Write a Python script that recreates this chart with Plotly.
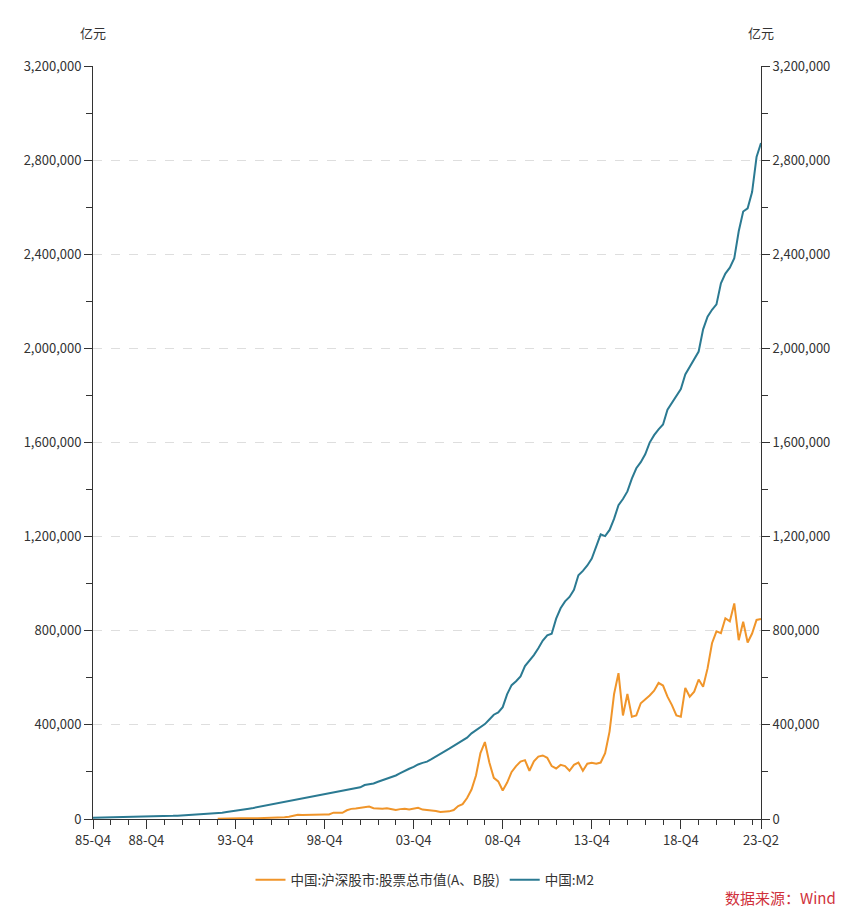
import plotly.graph_objects as go

# ---- data ----
quarters = ["85-Q4"] + [f"{y % 100:02d}-Q{q}" for y in range(1986, 2023) for q in (1, 2, 3, 4)] + ["23-Q1", "23-Q2"]

m2 = [
    5199,
    5500, 5900, 6300, 6721,
    7050, 7450, 7900, 8330,
    8700, 9200, 9700, 10100,
    10400, 10900, 11400, 11950,
    12600, 13400, 14300, 15293,
    16100, 17100, 18200, 19350,
    20500, 22000, 23600, 25402,
    27000, 29500, 31800, 34880,
    37500, 41000, 43900, 46924,
    50500, 54200, 57400, 60751,
    64700, 68500, 72700, 76095,
    80300, 84000, 87500, 90995,
    95000, 97700, 100800, 104499,
    108400, 113200, 115500, 119898,
    122600, 126600, 130300, 134610,
    144400, 147800, 151000, 158302,
    164600, 170900, 176700, 185007,
    194500, 204900, 213600, 221223,
    231700, 238400, 243800, 254107,
    264600, 275800, 287400, 298756,
    310500, 322800, 331900, 345578,
    364100, 377800, 393100, 403442,
    423100, 443100, 452900, 475167,
    530600, 568900, 585400, 606225,
    649900, 673900, 696500, 725852,
    758100, 780800, 787400, 851591,
    895600, 924900, 943700, 974149,
    1035900, 1054400, 1077400, 1106525,
    1160700, 1209600, 1202100, 1228375,
    1275300, 1333400, 1359800, 1392278,
    1446200, 1490500, 1516400, 1550067,
    1599600, 1631300, 1655700, 1676769,
    1739300, 1770200, 1801700, 1826744,
    1889400, 1921400, 1952300, 1986489,
    2080900, 2134900, 2164100, 2186796,
    2276900, 2317800, 2342800, 2382899,
    2497700, 2581500, 2595100, 2664321,
    2813000, 2873023,
]

stock = [None] * 28 + [
    1048,
    2000, 3000, 3300, 3531,
    3200, 2900, 4500, 3691,
    3300, 3700, 3600, 3474,
    4000, 6500, 7500, 9842,
    13500, 17500, 16500, 17529,
    19500, 20500, 18500, 19506,
    19500, 27000, 26500, 26471,
    37000, 43000, 45000, 48091,
    50000, 53000, 46000, 43522,
    44000, 46000, 41000, 38329,
    42000, 44000, 40000, 42458,
    48000, 40000, 39000, 37056,
    34000, 30000, 31000, 32430,
    38000, 55000, 63000, 89404,
    125000, 185000, 280000, 327141,
    240000, 175000, 160000, 121366,
    155000, 200000, 225000, 243939,
    250000, 205000, 245000, 265423,
    270000, 260000, 225000, 214758,
    230000, 225000, 205000, 230358,
    240000, 205000, 235000, 239077,
    235000, 240000, 280000, 372547,
    530000, 620000, 440000, 531304,
    435000, 440000, 492000, 507686,
    525000, 545000, 578000, 567086,
    520000, 484000, 440000, 434924,
    557000, 520000, 541000, 592935,
    562000, 640000, 747000, 797238,
    790000, 853000, 840000, 916088,
    760000, 838000, 750000, 788006,
    846000, 850000,
]

tick_labels = ["85-Q4", "88-Q4", "93-Q4", "98-Q4", "03-Q4", "08-Q4", "13-Q4", "18-Q4", "23-Q2"]
series_names = ["中国:沪深股市:股票总市值(A、B股)", "中国:M2"]

# ---- figure ----
idx = list(range(len(quarters)))
tick_pos = [quarters.index(t) for t in tick_labels]
minor_pos = [i for i, q in enumerate(quarters) if q.endswith("Q4") and i not in tick_pos]

FONT = "Noto Sans CJK SC, Microsoft YaHei, sans-serif"
ORANGE = "#f0952a"
BLUE = "#2b7a92"

fig = go.Figure()
fig.add_trace(go.Scatter(x=idx, y=stock, name=series_names[0], mode="lines",
                         line=dict(color=ORANGE, width=2), yaxis="y"))
fig.add_trace(go.Scatter(x=idx, y=m2, name=series_names[1], mode="lines",
                         line=dict(color=BLUE, width=2), yaxis="y2"))

yax = dict(range=[0, 3200000], dtick=400000, tickformat=",d", showline=True,
           linecolor="#333", linewidth=1, ticks="outside", ticklen=8, tickcolor="#333",
           tickfont=dict(size=13, color="#333"), zeroline=False,
           minor=dict(dtick=200000, ticks="outside", ticklen=6, tickcolor="#333", showgrid=False))

fig.update_layout(
    width=855, height=907,
    margin=dict(l=85, r=102, t=58, b=96),
    paper_bgcolor="white", plot_bgcolor="white",
    font=dict(family=FONT, size=13, color="#333"),
    xaxis=dict(range=[0, len(quarters) - 1], tickmode="array", tickvals=tick_pos,
               ticktext=tick_labels, showline=True, linecolor="#333", linewidth=1,
               ticks="outside", ticklen=9, tickcolor="#333", showgrid=False, zeroline=False,
               tickfont=dict(size=13, color="#333"),
               minor=dict(tickmode="array", tickvals=minor_pos, ticks="outside", ticklen=5,
                          tickcolor="#333", showgrid=False)),
    yaxis=dict(**yax, side="left", showgrid=True, gridcolor="#dedede", griddash="dash", gridwidth=1),
    yaxis2=dict(**yax, side="right", overlaying="y", showgrid=False),
    legend=dict(orientation="h", x=0.497, xanchor="center", y=-0.081, yanchor="middle",
                font=dict(size=13.5, color="#333"), itemwidth=30),
    showlegend=True,
)

fig.add_annotation(text="亿元", xref="paper", yref="paper", x=0, y=1.044,
                   showarrow=False, font=dict(size=13, color="#333"), xanchor="center", yanchor="middle")
fig.add_annotation(text="亿元", xref="paper", yref="paper", x=1, y=1.044,
                   showarrow=False, font=dict(size=13, color="#333"), xanchor="center", yanchor="middle")
fig.add_annotation(text="数据来源：Wind", xref="paper", yref="paper", x=1.115, y=-0.1036,
                   showarrow=False, font=dict(size=15, color="#d0313b"), xanchor="right", yanchor="middle")

fig.write_html("out.html")
